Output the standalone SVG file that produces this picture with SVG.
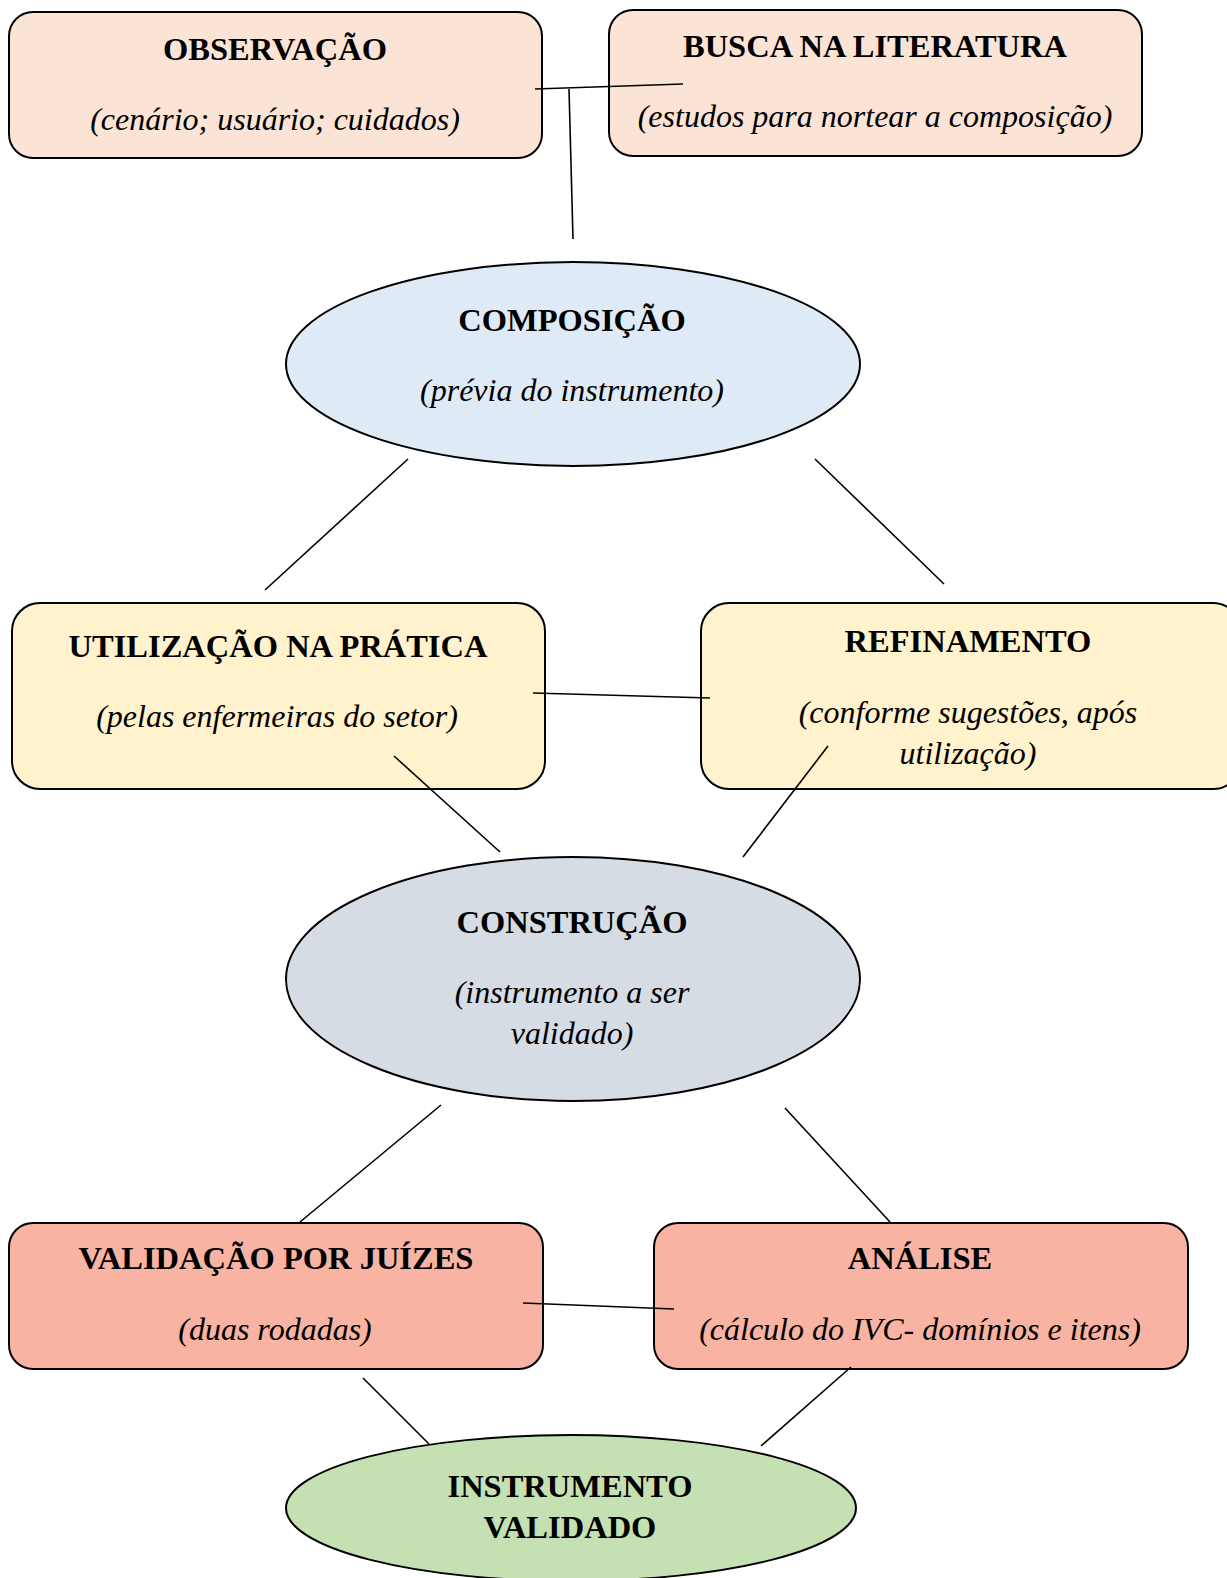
<svg xmlns="http://www.w3.org/2000/svg" width="1227" height="1578" viewBox="0 0 1227 1578">
<style>
.box{stroke:#000;stroke-width:2}
.t{font-family:"Liberation Serif","Times New Roman",serif;font-size:32.5px;font-weight:bold;text-anchor:middle;fill:#000}
.s{font-family:"Liberation Serif","Times New Roman",serif;font-size:32px;font-style:italic;text-anchor:middle;fill:#000}
.c line{stroke:#000;stroke-width:1.6;fill:none}
</style>
<rect width="1227" height="1578" fill="#fff"/>
<g id="observacao">
<rect class="box" x="9" y="12" width="533" height="146" rx="24" fill="#FBE4D5"/>
<text class="t" x="275" y="60">OBSERVAÇÃO</text>
<text class="s" x="275" y="130">(cenário; usuário; cuidados)</text>
</g>
<g id="busca">
<rect class="box" x="609" y="10" width="533" height="146" rx="24" fill="#FBE4D5"/>
<text class="t" x="875" y="57">BUSCA NA LITERATURA</text>
<text class="s" x="875" y="127">(estudos para nortear a composição)</text>
</g>
<g id="composicao">
<ellipse class="box" cx="573" cy="364" rx="287" ry="102" fill="#DEEAF6"/>
<text class="t" x="572" y="331">COMPOSIÇÃO</text>
<text class="s" x="572" y="401">(prévia do instrumento)</text>
</g>
<g id="utilizacao">
<rect class="box" x="12" y="603" width="533" height="186" rx="28" fill="#FFF2CC"/>
<text class="t" x="278" y="657">UTILIZAÇÃO NA PRÁTICA</text>
<text class="s" x="277" y="727">(pelas enfermeiras do setor)</text>
</g>
<g id="refinamento">
<rect class="box" x="701" y="603" width="540" height="186" rx="28" fill="#FFF2CC"/>
<text class="t" x="968" y="652">REFINAMENTO</text>
<text class="s" x="968" y="723">(conforme sugestões, após</text>
<text class="s" x="968" y="764">utilização)</text>
</g>
<g id="construcao">
<ellipse class="box" cx="573" cy="979" rx="287" ry="122" fill="#D5DCE4"/>
<text class="t" x="572" y="933">CONSTRUÇÃO</text>
<text class="s" x="572" y="1003">(instrumento a ser</text>
<text class="s" x="572" y="1044">validado)</text>
</g>
<g id="validacao">
<rect class="box" x="9" y="1223" width="534" height="146" rx="24" fill="#F8B3A2"/>
<text class="t" x="276" y="1269">VALIDAÇÃO POR JUÍZES</text>
<text class="s" x="275" y="1340">(duas rodadas)</text>
</g>
<g id="analise">
<rect class="box" x="654" y="1223" width="534" height="146" rx="24" fill="#F8B3A2"/>
<text class="t" x="920" y="1269">ANÁLISE</text>
<text class="s" x="920" y="1340">(cálculo do IVC- domínios e itens)</text>
</g>
<g id="instrumento">
<ellipse class="box" cx="571" cy="1508" rx="285" ry="73" fill="#C5E0B3"/>
<text class="t" x="570" y="1497">INSTRUMENTO</text>
<text class="t" x="570" y="1538">VALIDADO</text>
</g>
<g class="c" id="connectors">
<line x1="535" y1="89" x2="683" y2="84"/>
<line x1="569" y1="89" x2="573" y2="239"/>
<line x1="408" y1="459" x2="265" y2="590"/>
<line x1="815" y1="459" x2="944" y2="584"/>
<line x1="533" y1="693" x2="710" y2="698"/>
<line x1="394" y1="756" x2="500" y2="852"/>
<line x1="828" y1="746" x2="743" y2="857"/>
<line x1="441" y1="1105" x2="300" y2="1222"/>
<line x1="785" y1="1108" x2="890" y2="1222"/>
<line x1="523" y1="1303" x2="674" y2="1309"/>
<line x1="363" y1="1378" x2="429" y2="1444"/>
<line x1="851" y1="1367" x2="761" y2="1446"/>
</g>
</svg>
